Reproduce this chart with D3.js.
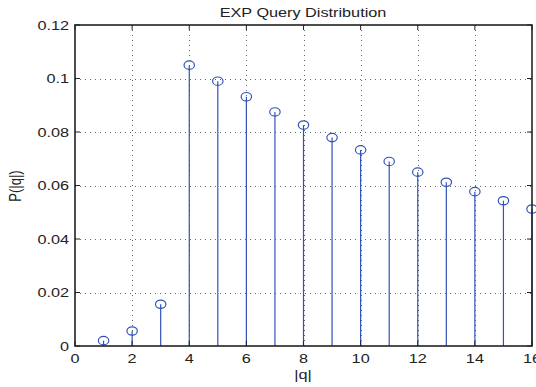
<!DOCTYPE html>
<html>
<head>
<meta charset="utf-8">
<script src="https://cdn.jsdelivr.net/npm/d3@7"></script>
<style>
  html, body { margin: 0; padding: 0; background: #fff; }
  svg { display: block; }
  text { font-family: "Liberation Sans", Arial, sans-serif; fill: #222; }
</style>
</head>
<body>
<svg id="chart" width="536" height="387"></svg>
<script>
// Query length |q| and its probability P(|q|)
const querySizes = [1, 2, 3, 4, 5, 6, 7, 8, 9, 10, 11, 12, 13, 14, 15, 16];
const probabilities = [0.0020, 0.0056, 0.0156, 0.1050, 0.0990, 0.0932, 0.0875, 0.0826,
                       0.0779, 0.0733, 0.0690, 0.0650, 0.0612, 0.0577, 0.0543, 0.0512];
const xTicks = [0, 2, 4, 6, 8, 10, 12, 14, 16];
const yTicks = [0, 0.02, 0.04, 0.06, 0.08, 0.1, 0.12];
const yTickLabels = ["0", "0.02", "0.04", "0.06", "0.08", "0.1", "0.12"];
const titleText = "EXP Query Distribution";
const xLabelText = "|q|";
const yLabelText = "P(|q|)";

const svg = d3.select("#chart");
const box = { left: 75, right: 532, top: 25, bottom: 346 };
const sx = 1.25;           // horizontal text stretch
const fontSize = 13;
const stemColor = "#3153b8";

const x = d3.scaleLinear().domain([0, 16]).range([box.left, box.right]);
const y = d3.scaleLinear().domain([0, 0.12]).range([box.bottom, box.top]);

// dotted grid
const grid = svg.append("g").attr("stroke", "#333").attr("stroke-width", 1)
  .attr("stroke-dasharray", "1,4").attr("opacity", 0.75);
grid.selectAll(".gx").data(xTicks.slice(1, -1)).join("line")
  .attr("x1", d => Math.round(x(d)) + 0.5).attr("x2", d => Math.round(x(d)) + 0.5)
  .attr("y1", box.top).attr("y2", box.bottom);
grid.selectAll(".gy").data(yTicks.slice(1, -1)).join("line")
  .attr("y1", d => Math.round(y(d)) + 0.5).attr("y2", d => Math.round(y(d)) + 0.5)
  .attr("x1", box.left).attr("x2", box.right);

// stems
svg.append("g").selectAll("line").data(querySizes).join("line")
  .attr("x1", d => x(d)).attr("x2", d => x(d))
  .attr("y1", y(0)).attr("y2", (d, i) => y(probabilities[i]))
  .attr("stroke", stemColor).attr("stroke-width", 1.2);

// circle markers
svg.append("g").selectAll("ellipse").data(querySizes).join("ellipse")
  .attr("cx", d => x(d)).attr("cy", (d, i) => y(probabilities[i]))
  .attr("rx", 5.2).attr("ry", 4.2)
  .attr("fill", "none").attr("stroke", stemColor).attr("stroke-width", 1.2);

// axes frame and inward ticks
const frame = svg.append("g").attr("stroke", "#222").attr("fill", "none");
frame.append("rect")
  .attr("x", box.left).attr("y", box.top)
  .attr("width", box.right - box.left).attr("height", box.bottom - box.top)
  .attr("stroke-width", 1.6);
const tl = 5;
frame.selectAll(".tb").data(xTicks).join("line")
  .attr("x1", d => x(d)).attr("x2", d => x(d))
  .attr("y1", box.bottom).attr("y2", box.bottom - tl).attr("stroke-width", 1);
frame.selectAll(".tt").data(xTicks).join("line")
  .attr("x1", d => x(d)).attr("x2", d => x(d))
  .attr("y1", box.top).attr("y2", box.top + tl).attr("stroke-width", 1);
frame.selectAll(".tlft").data(yTicks).join("line")
  .attr("y1", d => y(d)).attr("y2", d => y(d))
  .attr("x1", box.left).attr("x2", box.left + tl).attr("stroke-width", 1);
frame.selectAll(".trgt").data(yTicks).join("line")
  .attr("y1", d => y(d)).attr("y2", d => y(d))
  .attr("x1", box.right).attr("x2", box.right - tl).attr("stroke-width", 1);

// tick labels
svg.append("g").selectAll("text").data(xTicks).join("text")
  .attr("transform", d => `translate(${x(d)},363) scale(${sx},1)`)
  .attr("text-anchor", "middle").attr("font-size", fontSize)
  .text(d => d3.format("d")(d));
svg.append("g").selectAll("text").data(yTicks).join("text")
  .attr("transform", d => `translate(69,${y(d) + 4.5}) scale(${sx},1)`)
  .attr("text-anchor", "end").attr("font-size", fontSize)
  .text((d, i) => yTickLabels[i]);

// title and axis labels
svg.append("text")
  .attr("transform", `translate(303,17) scale(${sx},1)`)
  .attr("text-anchor", "middle").attr("font-size", fontSize).text(titleText);
svg.append("text")
  .attr("transform", `translate(303,379) scale(${sx},1)`)
  .attr("text-anchor", "middle").attr("font-size", fontSize).text(xLabelText);
svg.append("text")
  .attr("transform", `translate(21,186) scale(${sx},1) rotate(-90)`)
  .attr("text-anchor", "middle").attr("font-size", fontSize).text(yLabelText);
</script>
</body>
</html>
